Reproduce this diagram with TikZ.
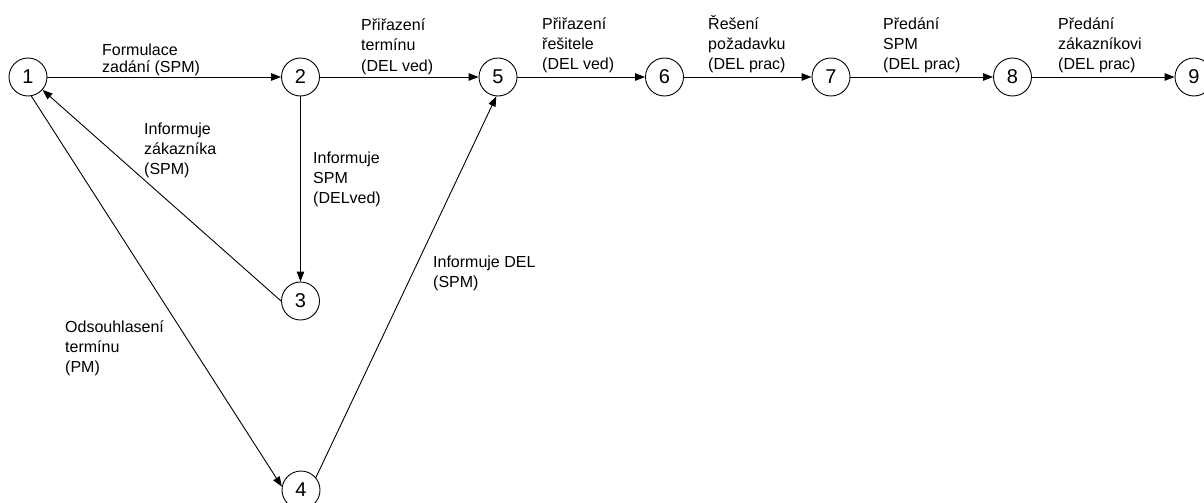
\documentclass[tikz,border=0pt]{standalone}
\usepackage{fontspec}
\setmainfont{Liberation Sans}
\usetikzlibrary{arrows.meta}

% multi-line edge label whose first baseline sits on the node's base
\newcommand\edgetext[1]{\begin{tabular}[t]{@{}l@{}}#1\end{tabular}}

\begin{document}
\begin{tikzpicture}[
  x=1pt, y=-1pt,
  event/.style={circle, draw, line width=0.9pt, minimum size=38pt, inner sep=0pt,
                font=\fontsize{20}{24}\selectfont},
  act/.style={line width=0.9pt, -{Triangle[length=10pt,width=7.5pt]}},
  lbl/.style={anchor=base west, inner sep=0pt, font=\fontsize{16}{20}\selectfont},
]
\useasboundingbox (0,0) rectangle (1204,503);

% events
\node[event] (n1) at (28,77)   {1};
\node[event] (n2) at (300.5,77) {2};
\node[event] (n3) at (300.5,301) {3};
\node[event] (n4) at (301,490) {4};
\node[event] (n5) at (498,77)  {5};
\node[event] (n6) at (664.5,77) {6};
\node[event] (n7) at (831,77)  {7};
\node[event] (n8) at (1012.5,77) {8};
\node[event] (n9) at (1194,77) {9};

% activities
\draw[act] (n1) -- (n2);
\draw[act] (n2) -- (n5);
\draw[act] (n5) -- (n6);
\draw[act] (n6) -- (n7);
\draw[act] (n7) -- (n8);
\draw[act] (n8) -- (n9);
\draw[act] (n2) -- (n3);
\draw[act] (n3.west) -- (n1);
\draw[act] (n1.-80) -- (n4.170);
\draw[act] (n4.40) -- (n5.265);

% activity labels
\node[lbl, font=\fontsize{16}{17}\selectfont] (t12) at (102,56) {\edgetext{Formulace\\zadání (SPM)}};
\node[lbl] (t25) at (361,31)  {\edgetext{Přiřazení\\termínu\\(DEL ved)}};
\node[lbl] (t56) at (542,30)  {\edgetext{Přiřazení\\řešitele\\(DEL ved)}};
\node[lbl] (t67) at (708,30)  {\edgetext{Řešení\\požadavku\\(DEL prac)}};
\node[lbl] (t78) at (883,30)  {\edgetext{Předání\\SPM\\(DEL prac)}};
\node[lbl] (t89) at (1058,30) {\edgetext{Předání\\zákazníkovi\\(DEL prac)}};
\node[lbl] (t31) at (144,134) {\edgetext{Informuje\\zákazníka\\(SPM)}};
\node[lbl] (t23) at (313,163) {\edgetext{Informuje\\SPM\\(DELved)}};
\node[lbl] (t45) at (433,267) {\edgetext{Informuje DEL\\(SPM)}};
\node[lbl] (t14) at (65,332)  {\edgetext{Odsouhlasení\\termínu\\(PM)}};
\end{tikzpicture}
\end{document}
